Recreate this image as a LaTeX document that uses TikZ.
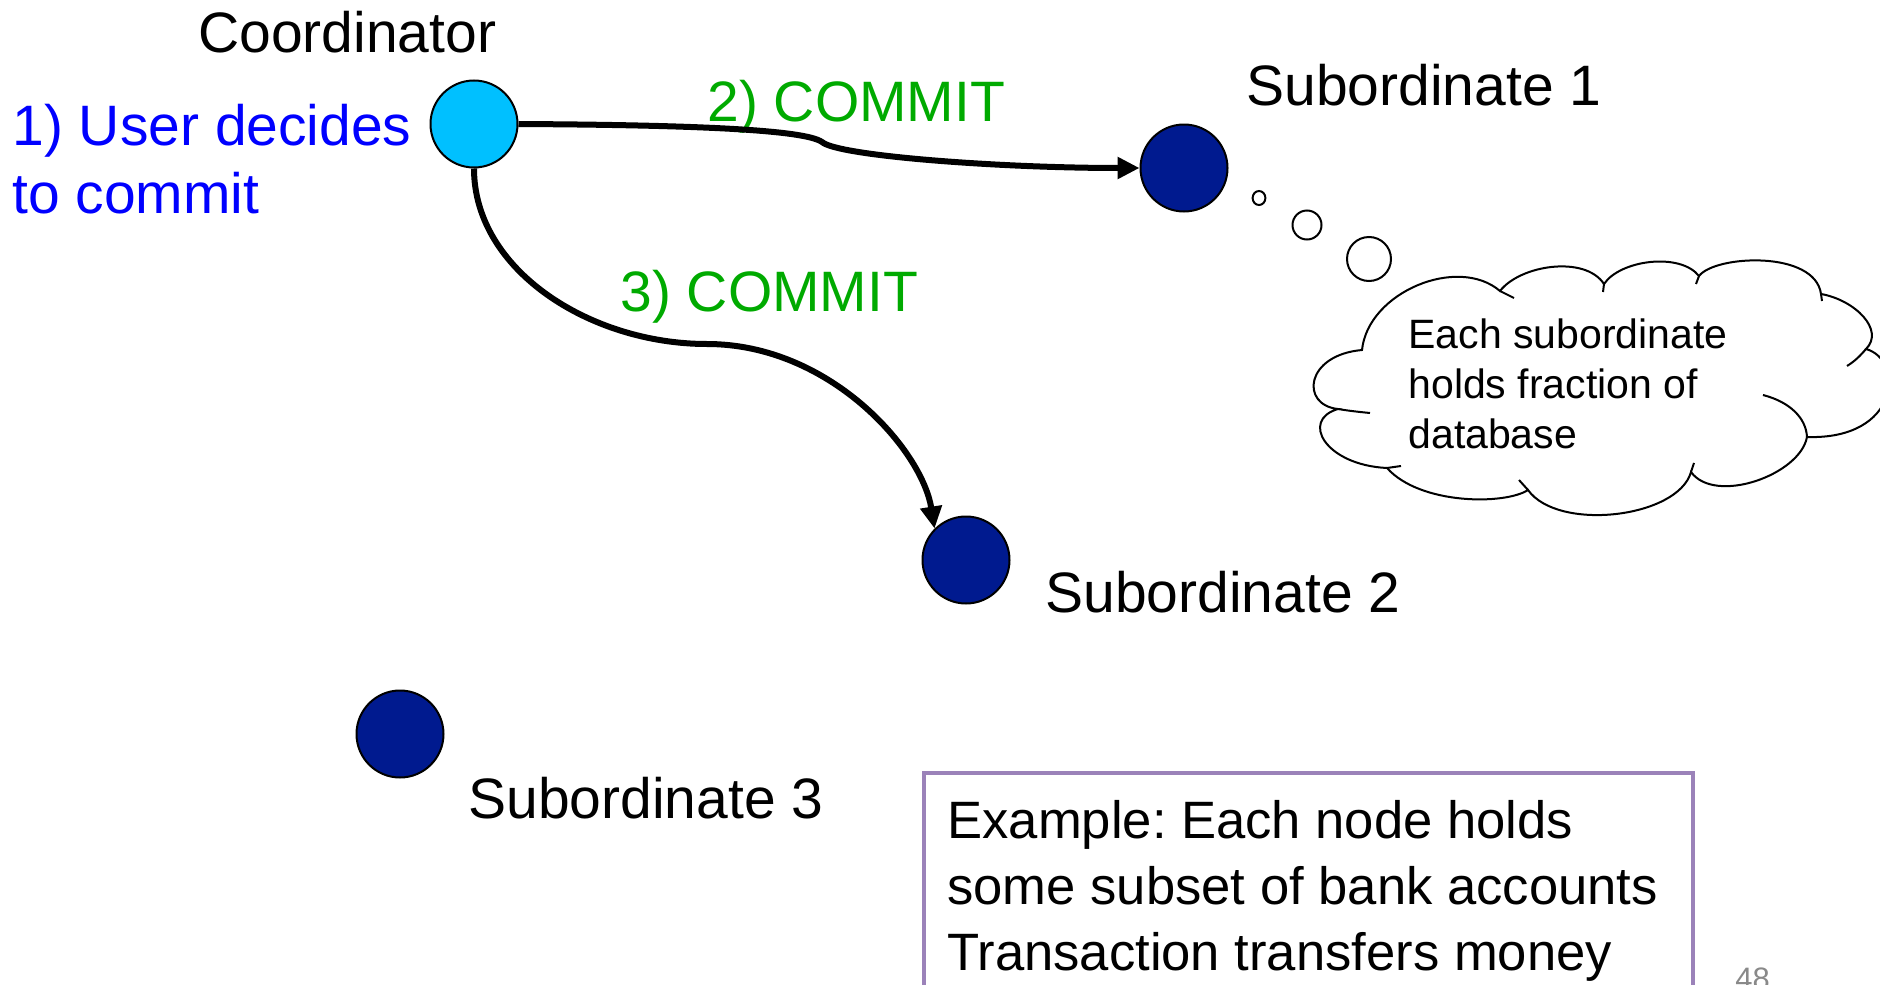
\documentclass[tikz,border=0pt]{standalone}
\usepackage{fontspec}
\setmainfont{Liberation Sans}
\usetikzlibrary{arrows.meta}
\definecolor{coordfill}{RGB}{0,192,255}
\definecolor{subfill}{RGB}{0,26,143}
\definecolor{cgreen}{RGB}{0,170,0}
\definecolor{cblue}{RGB}{0,0,255}
\definecolor{boxpurple}{RGB}{155,130,185}
\definecolor{pagegray}{RGB}{137,137,137}
\frenchspacing
\begin{document}
\begin{tikzpicture}[x=0.5pt,y=-0.5pt,
  site/.style={circle, draw=black, line width=1pt, minimum size=43.5pt, inner sep=0pt},
  lbl/.style={inner sep=0pt, anchor=base west, font=\fontsize{28.5}{34}\selectfont},
  msg/.style={line width=3pt, -{Triangle[length=11pt,width=10.5pt]}},
  thinline/.style={line width=1pt}]
\useasboundingbox (0,0) rectangle (1880,985);
\clip (0,0) rectangle (1880,985);

% sites
\node[site, fill=coordfill] (co) at (474,124) {};
\node[site, fill=subfill] (s1) at (1184,168) {};
\node[site, fill=subfill] (s2) at (966,560) {};
\node[site, fill=subfill] (s3) at (400,734) {};

% labels (base of multi-line nodes = baseline of last line)
\node[lbl] (lco) at (198,53) {Coordinator};
\node[lbl, text=cblue, align=left] (luser) at (12,213) {1) User decides\\to commit};
\node[lbl] (ls1) at (1246,105) {Subordinate 1};
\node[lbl] (ls2) at (1045,612) {Subordinate 2};
\node[lbl] (ls3) at (468,818) {Subordinate 3};
\node[lbl, text=cgreen] (lc2) at (707,121) {2) COMMIT};
\node[lbl, text=cgreen] (lc3) at (620,311) {3) COMMIT};

% messages
\draw[msg] (co.east) .. controls (700,125) and (805,130) .. (822,142)
  .. controls (838,156) and (1000,168) .. (s1.west);
\draw[msg] (co.south) .. controls (474,270) and (590,344) .. (707,344)
  .. controls (830,344) and (922,450) .. (s2.135);

% thought bubbles
\draw[thinline] (1259,198) ellipse [x radius=3.2pt, y radius=3.5pt];
\draw[thinline] (1307,225) ellipse [x radius=7.25pt, y radius=7.25pt];
\draw[thinline] (1369,259) ellipse [x radius=11pt, y radius=11pt];

% cloud
\draw[thinline, fill=white] (1362,350) .. controls (1368,292) and (1458,255) .. (1500,291)
 .. controls (1520,265) and (1585,255) .. (1604,284)
 .. controls (1620,260) and (1680,252) .. (1699,276)
 .. controls (1715,255) and (1815,250) .. (1821,294)
 .. controls (1855,300) and (1885,330) .. (1866,349)
 .. controls (1905,360) and (1900,440) .. (1807,437)
 .. controls (1800,475) and (1715,505) .. (1691,472)
 .. controls (1678,518) and (1558,532) .. (1528,490)
 .. controls (1505,505) and (1420,505) .. (1387,468)
 .. controls (1325,465) and (1300,420) .. (1338,409)
 .. controls (1300,405) and (1305,355) .. (1362,350) -- cycle;
\draw[thinline] (1500,291) -- (1514,298);
\draw[thinline] (1604,284) -- (1603,292);
\draw[thinline] (1699,276) -- (1696,284);
\draw[thinline] (1821,294) -- (1822,301);
\draw[thinline] (1866,349) .. controls (1860,356) and (1855,361) .. (1847,366);
\draw[thinline] (1807,437) .. controls (1806,418) and (1790,402) .. (1763,395);
\draw[thinline] (1691,472) -- (1694,463);
\draw[thinline] (1528,490) -- (1519,480);
\draw[thinline] (1387,468) -- (1401,466);
\draw[thinline] (1338,409) .. controls (1350,411) and (1360,412) .. (1370,413);
\node[inner sep=0pt, anchor=base west, align=left, font=\fontsize{20.5}{25}\selectfont] (ct) at (1408,448)
  {Each subordinate\\holds fraction of\\database};

% example box
\draw[draw=boxpurple, line width=2pt] (924,773) rectangle (1693,1010);
\node[inner sep=0pt, anchor=base west, align=left, font=\fontsize{26.3}{33}\selectfont] (ex) at (947,970)
  {Example: Each node holds\\some subset of bank accounts\\Transaction transfers money};

\node[inner sep=0pt, anchor=base west, text=pagegray, font=\fontsize{15.5}{18}\selectfont] (pg) at (1735,989) {48};
\end{tikzpicture}
\end{document}
